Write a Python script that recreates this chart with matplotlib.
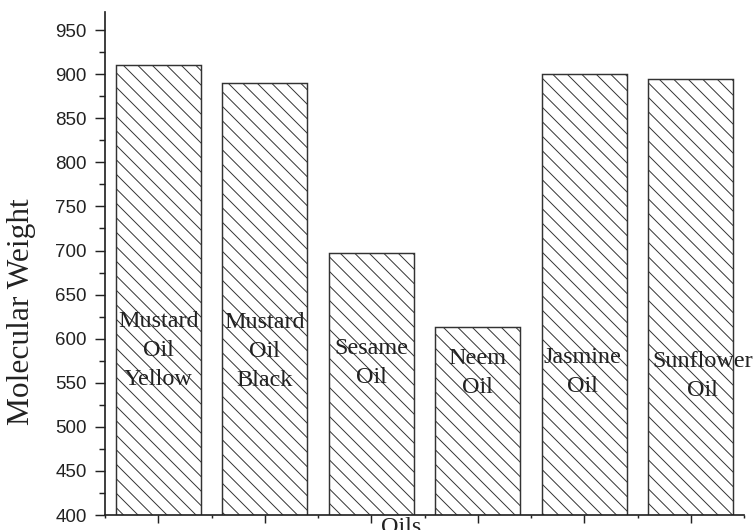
import matplotlib.pyplot as plt
from matplotlib.ticker import MultipleLocator, NullFormatter

# data
oils = ["Mustard Oil Yellow", "Mustard Oil Black", "Sesame Oil",
        "Neem Oil", "Jasmine Oil", "Sunflower Oil"]
bar_text = ["Mustard\nOil\nYellow", "Mustard\nOil\nBlack", "Sesame\nOil",
            "Neem\nOil", "Jasmine\nOil", "Sunflower\nOil"]
weights = [910, 890, 697, 613, 900, 895]

# where the text sits inside each bar (data units)
text_y = [587, 585, 572, 561, 562, 558]
text_dx = [0, 0, 0, 0, -0.02, 0.11]

plt.rcParams['hatch.linewidth'] = 0.8
serif = ['Liberation Serif', 'DejaVu Serif']
sans = ['Liberation Sans', 'DejaVu Sans']

dpi = 87
fig = plt.figure(figsize=(754 / dpi, 530 / dpi), dpi=dpi)
ax = fig.add_axes([105 / 754, 15 / 530, 639 / 754, 502.5 / 530])

pos = list(range(1, len(oils) + 1))
ax.bar(pos, weights, width=0.8, color='white', edgecolor='#333333',
       linewidth=1.2, hatch='\\\\')

for p, t, y, dx in zip(pos, bar_text, text_y, text_dx):
    ax.text(p + dx, y, t, ha='center', va='center', multialignment='center',
            fontsize=20, family=serif, color='#222222', linespacing=1.5)

ax.set_xlim(0.5, 6.5)
ax.set_ylim(400, 970)

for s in ['top', 'right']:
    ax.spines[s].set_visible(False)
for s in ['left', 'bottom']:
    ax.spines[s].set_linewidth(1.4)
    ax.spines[s].set_color('#222222')

ax.yaxis.set_major_locator(MultipleLocator(50))
ax.yaxis.set_minor_locator(MultipleLocator(25))
ax.xaxis.set_major_locator(MultipleLocator(1))
ax.xaxis.set_minor_locator(MultipleLocator(0.5))
ax.xaxis.set_major_formatter(NullFormatter())

ax.tick_params(axis='y', which='major', direction='out', length=8.3, width=1.2,
               pad=6.6, labelsize=15.5, color='#222222')
ax.tick_params(axis='y', which='minor', direction='out', length=5, width=1.2,
               color='#222222')
ax.tick_params(axis='x', which='major', direction='out', length=6.6, width=1.2,
               color='#222222')
ax.tick_params(axis='x', which='minor', direction='out', length=2.5, width=1.2,
               color='#222222')
for lab in ax.get_yticklabels():
    lab.set_family(sans)
    lab.set_color('#222222')

ax.set_ylabel('Molecular Weight', fontsize=26, family=serif, color='#222222')
ax.yaxis.set_label_coords(-0.108, 0.404)
ax.set_xlabel('Oils', fontsize=20, family=serif, color='#222222')
ax.xaxis.set_label_coords(0.463, -0.004)

fig.savefig('out.png', dpi=dpi)
